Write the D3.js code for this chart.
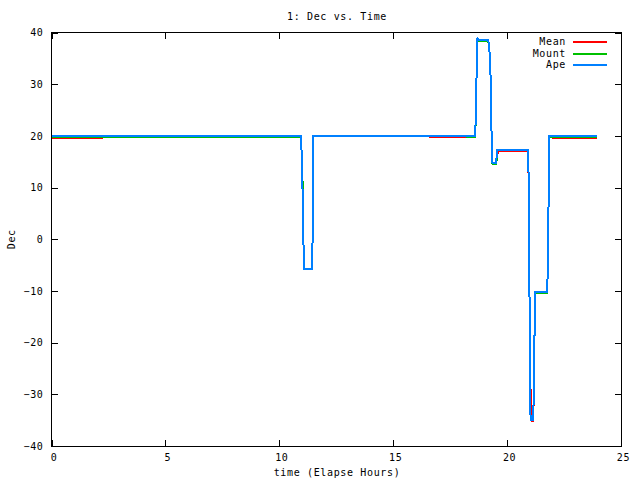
<!DOCTYPE html>
<html>
<head>
<meta charset="utf-8">
<script src="https://cdn.jsdelivr.net/npm/d3@7/dist/d3.min.js"></script>
<style>
  html, body { margin: 0; padding: 0; background: #fff; }
  svg { display: block; }
  text { font-family: "DejaVu Sans Mono", "Liberation Mono", monospace; font-size: 10px; letter-spacing: 0.65px; fill: #000; }
</style>
</head>
<body>
<svg id="chart" width="640" height="480"></svg>
<script>
// ---- data (time in elapsed hours, Dec in degrees) ----
const titleText = "1: Dec vs. Time";
const xLabel = "time (Elapse Hours)";
const yLabel = "Dec";
const xTicks = [0, 5, 10, 15, 20, 25];
const yTicks = [-40, -30, -20, -10, 0, 10, 20, 30, 40];
const seriesNames = ["Mean", "Mount", "Ape"];
const seriesColors = ["#ff0000", "#00c000", "#0080ff"];

const meanPts = [
  [0, 19.5], [2.2, 19.5], [2.21, 19.95], [10.94, 19.95], [10.96, 18.6], [10.99, 15.9],
  [11.02, 9.5], [11.06, -0.7], [11.10, -5.8], [11.45, -5.8], [11.47, 7.0], [11.49, 20.05],
  [16.62, 20.05], [16.63, 19.7], [18.6, 19.7],
  [18.63, 24.8], [18.67, 34.1], [18.70, 38.5], [19.17, 38.5], [19.20, 37.5], [19.24, 35.7],
  [19.29, 29.5], [19.32, 19.6], [19.36, 14.6], [19.51, 14.6], [19.55, 16.0], [19.61, 17.0],
  [20.93, 17.0], [20.96, 4.2], [21.00, -21.6], [21.05, -35.0], [21.10, -35.2], [21.15, -35.2],
  [21.19, -22.8], [21.23, -10.3], [21.76, -10.3], [21.80, -2.9], [21.83, 12.2], [21.86, 19.9],
  [22.0, 19.9], [22.01, 19.5], [23.93, 19.5]
];

const mountPts = [
  [0, 19.7], [10.93, 19.7], [10.96, 18.6], [10.99, 15.9], [11.03, 9.5], [11.06, -0.7],
  [11.10, -5.8], [11.45, -5.8], [11.47, 7.0], [11.49, 20.05], [18.24, 20.05], [18.25, 19.7],
  [18.60, 19.7], [18.63, 24.8], [18.67, 34.1], [18.70, 38.4], [19.17, 38.4], [19.20, 37.5],
  [19.24, 35.7], [19.29, 29.5], [19.32, 19.6], [19.36, 14.5], [19.52, 14.5], [19.55, 16.0],
  [19.58, 17.2], [20.93, 17.2], [20.96, 4.2], [21.00, -21.6], [21.03, -35.0], [21.15, -35.0],
  [21.19, -22.8], [21.23, -10.45], [21.76, -10.45], [21.80, -2.9], [21.83, 12.2], [21.86, 19.8],
  [23.93, 19.8]
];

const apePts = [
  [0, 19.95], [10.94, 19.95], [10.96, 18.6], [10.99, 15.9], [11.02, 9.5], [11.06, -0.7],
  [11.10, -5.8], [11.45, -5.8], [11.47, 7.0], [11.49, 20.05], [18.60, 20.05], [18.63, 24.8],
  [18.67, 34.1], [18.70, 38.8], [18.74, 38.6], [19.17, 38.6], [19.20, 37.5], [19.24, 35.7],
  [19.29, 29.5], [19.32, 19.6], [19.36, 14.7], [19.51, 14.7], [19.54, 16.0], [19.57, 17.3],
  [20.93, 17.3], [20.96, 4.2], [21.00, -21.6], [21.03, -35.0], [21.15, -35.0], [21.19, -22.8],
  [21.23, -10.3], [21.76, -10.3], [21.80, -2.9], [21.83, 12.2], [21.86, 19.95], [23.93, 19.95]
];

const seriesData = [meanPts, mountPts, apePts];

// ---- layout ----
const svg = d3.select("#chart");
const plotL = 51.5, plotR = 621, plotT = 32.5, plotB = 446;

const x = d3.scaleLinear().domain([0, 25]).range([plotL, plotR]);
const y = d3.scaleLinear().domain([-40, 40]).range([plotB, plotT]);

const tickLen = 6;

// axes (ticks inward, mirrored)
const gBottom = svg.append("g").attr("transform", `translate(0,${plotB})`)
  .call(d3.axisBottom(x).tickValues(xTicks).tickSizeInner(-tickLen).tickSizeOuter(0).tickPadding(0).tickFormat(d3.format("d")));
const gTop = svg.append("g").attr("transform", `translate(0,${plotT})`)
  .call(d3.axisTop(x).tickValues(xTicks).tickSizeInner(-tickLen).tickSizeOuter(0).tickFormat(""));
const gLeft = svg.append("g").attr("transform", `translate(${plotL},0)`)
  .call(d3.axisLeft(y).tickValues(yTicks).tickSizeInner(-tickLen).tickSizeOuter(0).tickPadding(8).tickFormat(d3.format("d")));
const gRight = svg.append("g").attr("transform", `translate(${plotR},0)`)
  .call(d3.axisRight(y).tickValues(yTicks).tickSizeInner(-tickLen).tickSizeOuter(0).tickFormat(""));

[gBottom, gTop, gLeft, gRight].forEach(g => {
  g.select(".domain").remove();
  g.selectAll(".tick line").attr("stroke", "#000").attr("shape-rendering", "crispEdges");
  g.selectAll(".tick text").attr("font-family", null).attr("font-size", null).attr("fill", "#000");
});
gBottom.selectAll(".tick text")
  .attr("x", 2).attr("y", 11.5).attr("dy", null)
  .attr("dominant-baseline", "middle");

// border
svg.append("rect")
  .attr("x", plotL).attr("y", plotT)
  .attr("width", plotR - plotL).attr("height", plotB - plotT)
  .attr("fill", "none").attr("stroke", "#000").attr("stroke-width", 1)
  .attr("shape-rendering", "crispEdges");

// series lines
const line = d3.line().x(d => x(d[0])).y(d => y(d[1]));
seriesData.forEach((pts, i) => {
  svg.append("path")
    .datum(pts)
    .attr("d", line)
    .attr("fill", "none")
    .attr("stroke", seriesColors[i])
    .attr("stroke-width", 2)
    .attr("shape-rendering", "crispEdges");
});

// title
svg.append("text").attr("x", 337).attr("y", 16.5)
  .attr("text-anchor", "middle").attr("dominant-baseline", "middle")
  .text(titleText);

// x label
svg.append("text").attr("x", 337).attr("y", 473)
  .attr("text-anchor", "middle").attr("dominant-baseline", "middle")
  .text(xLabel);

// y label
svg.append("text")
  .attr("transform", `translate(12,${(plotT + plotB) / 2}) rotate(-90)`)
  .attr("text-anchor", "middle").attr("dominant-baseline", "middle")
  .text(yLabel);

// legend
const legendY = [42, 53.5, 65];
seriesNames.forEach((name, i) => {
  svg.append("text").attr("x", 566).attr("y", legendY[i])
    .attr("text-anchor", "end").attr("dominant-baseline", "middle")
    .text(name);
  svg.append("line")
    .attr("x1", 573).attr("x2", 607)
    .attr("y1", legendY[i]).attr("y2", legendY[i])
    .attr("stroke", seriesColors[i]).attr("stroke-width", 2)
    .attr("shape-rendering", "crispEdges");
});
</script>
</body>
</html>
